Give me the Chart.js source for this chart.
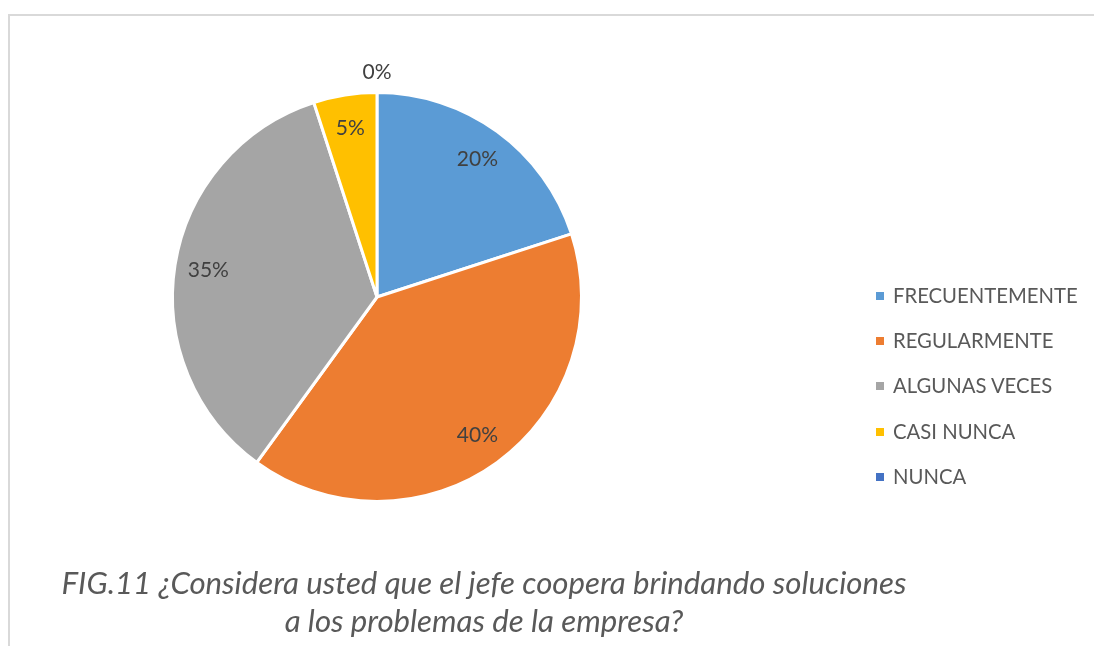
<!DOCTYPE html>
<html lang="es">
<head>
<meta charset="utf-8">
<title>FIG.11</title>
<script src="https://cdn.jsdelivr.net/npm/chart.js@4/dist/chart.umd.min.js"></script>
<style>
  html, body { margin: 0; padding: 0; background: #ffffff; }
  body { width: 1094px; height: 646px; position: relative; overflow: hidden; font-family: Lato, "Open Sans", sans-serif; }
  #frame { position: absolute; left: 8px; top: 14px; right: -10px; bottom: -10px;
           border-top: 2px solid #d9d9d9; border-left: 2px solid #d9d9d9; }
  #wrap { position: absolute; left: 0; top: 0; width: 1094px; height: 646px; }
  #legend { position: absolute; left: 876px; top: 273px; margin: 0; padding: 0; list-style: none; }
  #legend li { height: 45.2px; line-height: 45.2px; font-size: 20.3px; color: #595959; white-space: nowrap; }
  #legend span.box { display: inline-block; width: 8px; height: 8px; margin-right: 9px; vertical-align: 3px; }
  #caption { position: absolute; left: 284px; width: 400px; top: 563px; text-align: center;
             font-style: italic; font-size: 31.2px; line-height: 38px; color: #595959; white-space: nowrap; }
  #caption div { display: block; margin-left: -400px; margin-right: -400px; }
</style>
</head>
<body>
<div id="frame"></div>
<div id="wrap"><canvas id="chart" width="1094" height="646"></canvas></div>
<ul id="legend"></ul>
<div id="caption">
  <div>FIG.11 ¿Considera usted que el jefe coopera brindando soluciones</div>
  <div>a los problemas de la empresa?</div>
</div>
<script>
// Answer categories and their share of responses (percent)
const categories = ['FRECUENTEMENTE', 'REGULARMENTE', 'ALGUNAS VECES', 'CASI NUNCA', 'NUNCA'];
const percentages = [20, 40, 35, 5, 0];
const sliceColors = ['#5B9BD5', '#ED7D31', '#A5A5A5', '#FFC000', '#4472C4'];

// Percent labels: inside each slice, just outside the pie for empty slices
const percentLabels = {
  id: 'percentLabels',
  afterDatasetsDraw(chart) {
    const ctx = chart.ctx;
    const meta = chart.getDatasetMeta(0);
    const values = chart.data.datasets[0].data;
    ctx.save();
    ctx.font = '21px Lato, "Open Sans", sans-serif';
    ctx.fillStyle = '#404040';
    ctx.textAlign = 'center';
    ctx.textBaseline = 'middle';
    meta.data.forEach((arc, i) => {
      const p = arc.getProps(['x', 'y', 'startAngle', 'endAngle', 'outerRadius'], true);
      const mid = (p.startAngle + p.endAngle) / 2;
      const r = values[i] > 0 ? p.outerRadius * 0.835 : p.outerRadius + 20;
      ctx.fillText(values[i] + '%', p.x + Math.cos(mid) * r, p.y + Math.sin(mid) * r);
    });
    ctx.restore();
  }
};

const chart = new Chart(document.getElementById('chart'), {
  type: 'pie',
  data: {
    labels: categories,
    datasets: [{
      data: percentages,
      backgroundColor: sliceColors,
      borderColor: '#ffffff',
      borderWidth: 3
    }]
  },
  options: {
    responsive: false,
    animation: false,
    layout: { padding: { left: 171, right: 511, top: 90, bottom: 142 } },
    plugins: {
      legend: { display: false },
      tooltip: { enabled: false }
    }
  },
  plugins: [percentLabels]
});

// Legend list built from the same categories and colours
const legendEl = document.getElementById('legend');
categories.forEach((name, i) => {
  const li = document.createElement('li');
  const box = document.createElement('span');
  box.className = 'box';
  box.style.background = sliceColors[i];
  li.appendChild(box);
  li.appendChild(document.createTextNode(name));
  legendEl.appendChild(li);
});
</script>
</body>
</html>
